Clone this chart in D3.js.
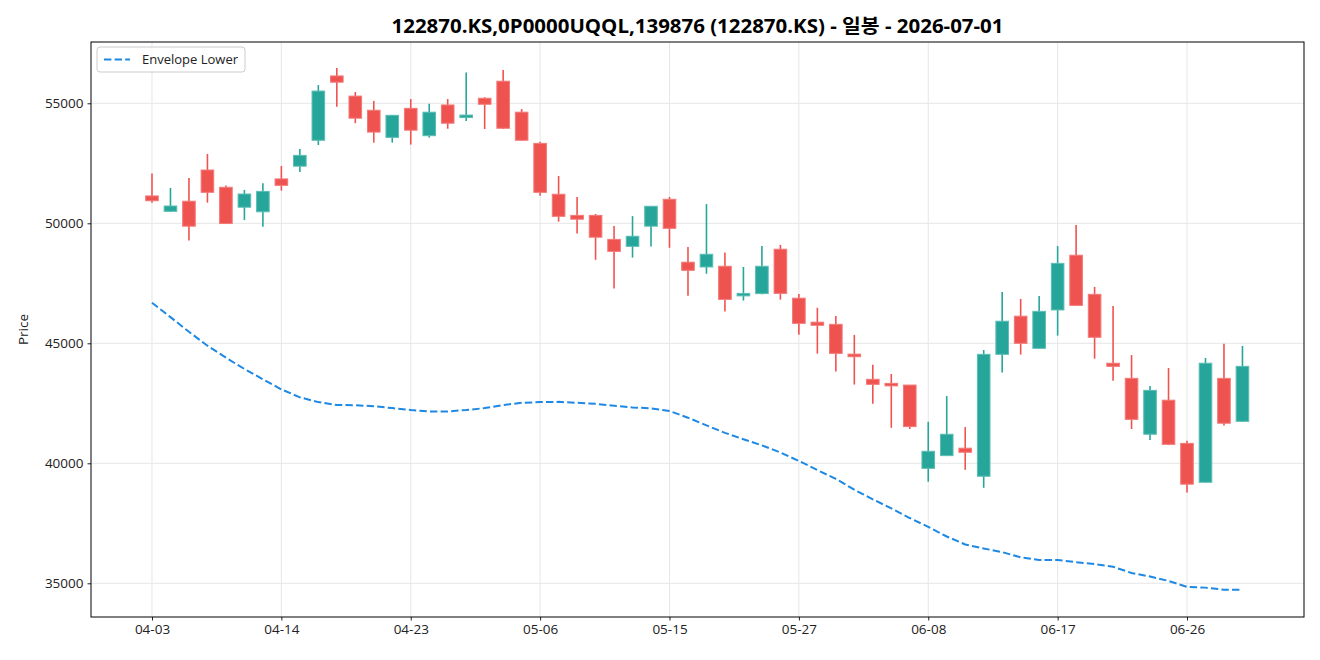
<!DOCTYPE html>
<html lang="ko">
<head>
<meta charset="UTF-8">
<title>122870.KS candles</title>
<script src="https://d3js.org/d3.v7.min.js"></script>
<style>
  body { margin: 0; background: #fff; font-family: "Open Sans", "Noto Sans CJK KR", sans-serif; }
  .grid line { stroke: #e6e6e6; stroke-width: 1; }
  .axis text { fill: #222; font-size: 13.5px; font-family: "Open Sans", "Noto Sans CJK KR", sans-serif; }
  .axis path { display: none; }
  .axis line { stroke: #222; }
</style>
</head>
<body>
<script>
const dates = ["04-03","04-06","04-07","04-08","04-09","04-10","04-13","04-14","04-15","04-16",
  "04-17","04-20","04-21","04-22","04-23","04-24","04-27","04-28","04-29","04-30",
  "05-04","05-06","05-07","05-08","05-11","05-12","05-13","05-14","05-15","05-18",
  "05-19","05-20","05-21","05-22","05-26","05-27","05-28","05-29","06-01","06-02",
  "06-04","06-05","06-08","06-09","06-10","06-11","06-12","06-15","06-16","06-17",
  "06-18","06-19","06-22","06-23","06-24","06-25","06-26","06-29","06-30","07-01"];
const open = [51140,50500,50920,52220,51500,50670,50480,51850,52380,53460,
  56140,55300,54710,53580,54790,53650,54930,54440,55210,55920,
  54630,53330,51210,50330,50330,49330,49040,49880,51000,48380,
  48180,48210,47000,47070,48920,46880,45880,45790,44550,43500,
  43330,43260,39790,40320,40630,39460,44540,46130,44790,46390,
  48670,47040,44170,43540,41210,42630,40830,39210,43540,41750];
const high = [52080,51470,51890,52890,51580,51390,51670,52390,53100,55760,
  56470,55470,55100,54510,55180,54980,55180,56280,55250,56390,
  54760,53400,51970,51100,50390,49890,50300,50710,51100,49010,
  50800,48780,48180,49050,49100,47050,46480,46140,45350,44110,
  43720,43260,41730,42800,41510,44720,47140,46850,46970,49050,
  49930,47350,46550,44510,43220,43970,40940,44390,44980,44890];
const low = [50860,50470,49280,50860,49970,50140,49860,51360,52140,53260,
  54860,54170,53360,53360,53280,53570,53940,54260,53930,53930,
  53430,51150,50070,49570,48480,47280,48570,49030,48980,46980,
  47900,46320,46780,47040,46820,45360,44570,43820,43280,42480,
  41480,41430,39230,40300,39730,38980,43780,44530,44780,45320,
  46570,44360,43440,41430,40970,40760,38780,39190,41570,41720];
const close = [50940,50720,49880,51290,49990,51220,51330,51580,52830,55510,
  55880,54380,53800,54500,53880,54630,54170,54510,54960,53960,
  53460,51290,50290,50170,49420,48830,49460,50710,49790,48040,
  48710,46830,47080,48210,47080,45830,45750,44580,44440,43290,
  43250,41530,40500,41210,40460,44540,45920,45000,46330,48330,
  46580,45250,44040,41830,43040,40790,39130,44170,41670,44040];
const envLower = [46690,46090,45480,44900,44400,43930,43500,43080,42750,42550,
  42430,42420,42380,42300,42220,42160,42160,42220,42300,42430,
  42520,42550,42560,42520,42480,42400,42330,42290,42180,41900,
  41580,41270,41000,40750,40450,40100,39720,39350,38900,38500,
  38120,37720,37350,36950,36620,36450,36300,36080,35970,35970,
  35880,35800,35690,35430,35280,35100,34850,34820,34730,34730];
const yTicks = [35000, 40000, 45000, 50000, 55000];
const xTickIdx = [0, 7, 14, 21, 28, 35, 42, 49, 56];

const W = 1320, H = 660;
const plot = {left: 91, right: 1304, top: 42, bottom: 617};
const upColor = "#26a69a", downColor = "#ef5350";

const svg = d3.select("body").append("svg")
  .attr("width", W).attr("height", H)
  .style("display", "block");

svg.append("rect").attr("width", W).attr("height", H).attr("fill", "#fff");

const x = d3.scaleLinear().domain([-3.3, 62.33]).range([plot.left, plot.right]);
const y = d3.scaleLinear().domain([33596, 57554]).range([plot.bottom, plot.top]);

// grid
const grid = svg.append("g").attr("class", "grid");
grid.selectAll(".gy").data(yTicks).enter().append("line")
  .attr("x1", plot.left).attr("x2", plot.right)
  .attr("y1", d => y(d)).attr("y2", d => y(d));
grid.selectAll(".gx").data(xTickIdx).enter().append("line")
  .attr("x1", d => x(d)).attr("x2", d => x(d))
  .attr("y1", plot.top).attr("y2", plot.bottom);

// candles
const idx = d3.range(dates.length);
const bw = 12.6;
const candles = svg.append("g");
candles.selectAll(".wick").data(idx).enter().append("line")
  .attr("x1", i => x(i)).attr("x2", i => x(i))
  .attr("y1", i => y(high[i])).attr("y2", i => y(low[i]))
  .attr("stroke", i => close[i] >= open[i] ? upColor : downColor)
  .attr("stroke-width", 1.6);
candles.selectAll(".body").data(idx).enter().append("rect")
  .attr("x", i => x(i) - bw / 2)
  .attr("width", bw)
  .attr("y", i => y(Math.max(open[i], close[i])))
  .attr("height", i => Math.max(2.5, Math.abs(y(open[i]) - y(close[i]))))
  .attr("fill", i => close[i] >= open[i] ? upColor : downColor)
  .attr("stroke", i => close[i] >= open[i] ? "#5cbdb3" : "#f27a78")
  .attr("stroke-width", 1);

// envelope lower
svg.append("path")
  .datum(idx)
  .attr("fill", "none")
  .attr("stroke", "#1e88e5")
  .attr("stroke-width", 2)
  .attr("stroke-dasharray", "7.4,3.2")
  .attr("d", d3.line().x(i => x(i)).y(i => y(envLower[i])));

// axes
svg.append("g").attr("class", "axis")
  .attr("transform", "translate(0," + plot.bottom + ")")
  .call(d3.axisBottom(x).tickValues(xTickIdx).tickFormat(i => dates[i]).tickSize(3.5).tickPadding(3.5));
svg.append("g").attr("class", "axis")
  .attr("transform", "translate(" + plot.left + ",0)")
  .call(d3.axisLeft(y).tickValues(yTicks).tickFormat(d3.format("d")).tickSize(3.5).tickPadding(4));

// frame
svg.append("rect")
  .attr("x", plot.left).attr("y", plot.top)
  .attr("width", plot.right - plot.left).attr("height", plot.bottom - plot.top)
  .attr("fill", "none").attr("stroke", "#000").attr("stroke-width", 1);

// labels
svg.append("text")
  .attr("x", (plot.left + plot.right) / 2).attr("y", 33)
  .attr("text-anchor", "middle")
  .attr("textLength", 612).attr("lengthAdjust", "spacingAndGlyphs")
  .style("font-size", "19px").style("font-weight", "bold")
  .attr("fill", "#000")
  .text("122870.KS,0P0000UQQL,139876 (122870.KS) - 일봉 - 2026-07-01");

svg.append("text")
  .attr("transform", "translate(28," + ((plot.top + plot.bottom) / 2) + ") rotate(-90)")
  .attr("text-anchor", "middle")
  .style("font-size", "13.5px")
  .attr("fill", "#222")
  .text("Price");

// legend
const lg = svg.append("g").attr("transform", "translate(97,47)");
lg.append("rect").attr("width", 148).attr("height", 25).attr("rx", 3)
  .attr("fill", "#fff").attr("fill-opacity", 0.8)
  .attr("stroke", "#ccc");
lg.append("line").attr("x1", 7).attr("x2", 33).attr("y1", 12.5).attr("y2", 12.5)
  .attr("stroke", "#1e88e5").attr("stroke-width", 2).attr("stroke-dasharray", "7.4,3.2");
lg.append("text").attr("x", 45).attr("y", 17)
  .style("font-size", "13px").attr("fill", "#222")
  .text("Envelope Lower");
</script>
</body>
</html>
